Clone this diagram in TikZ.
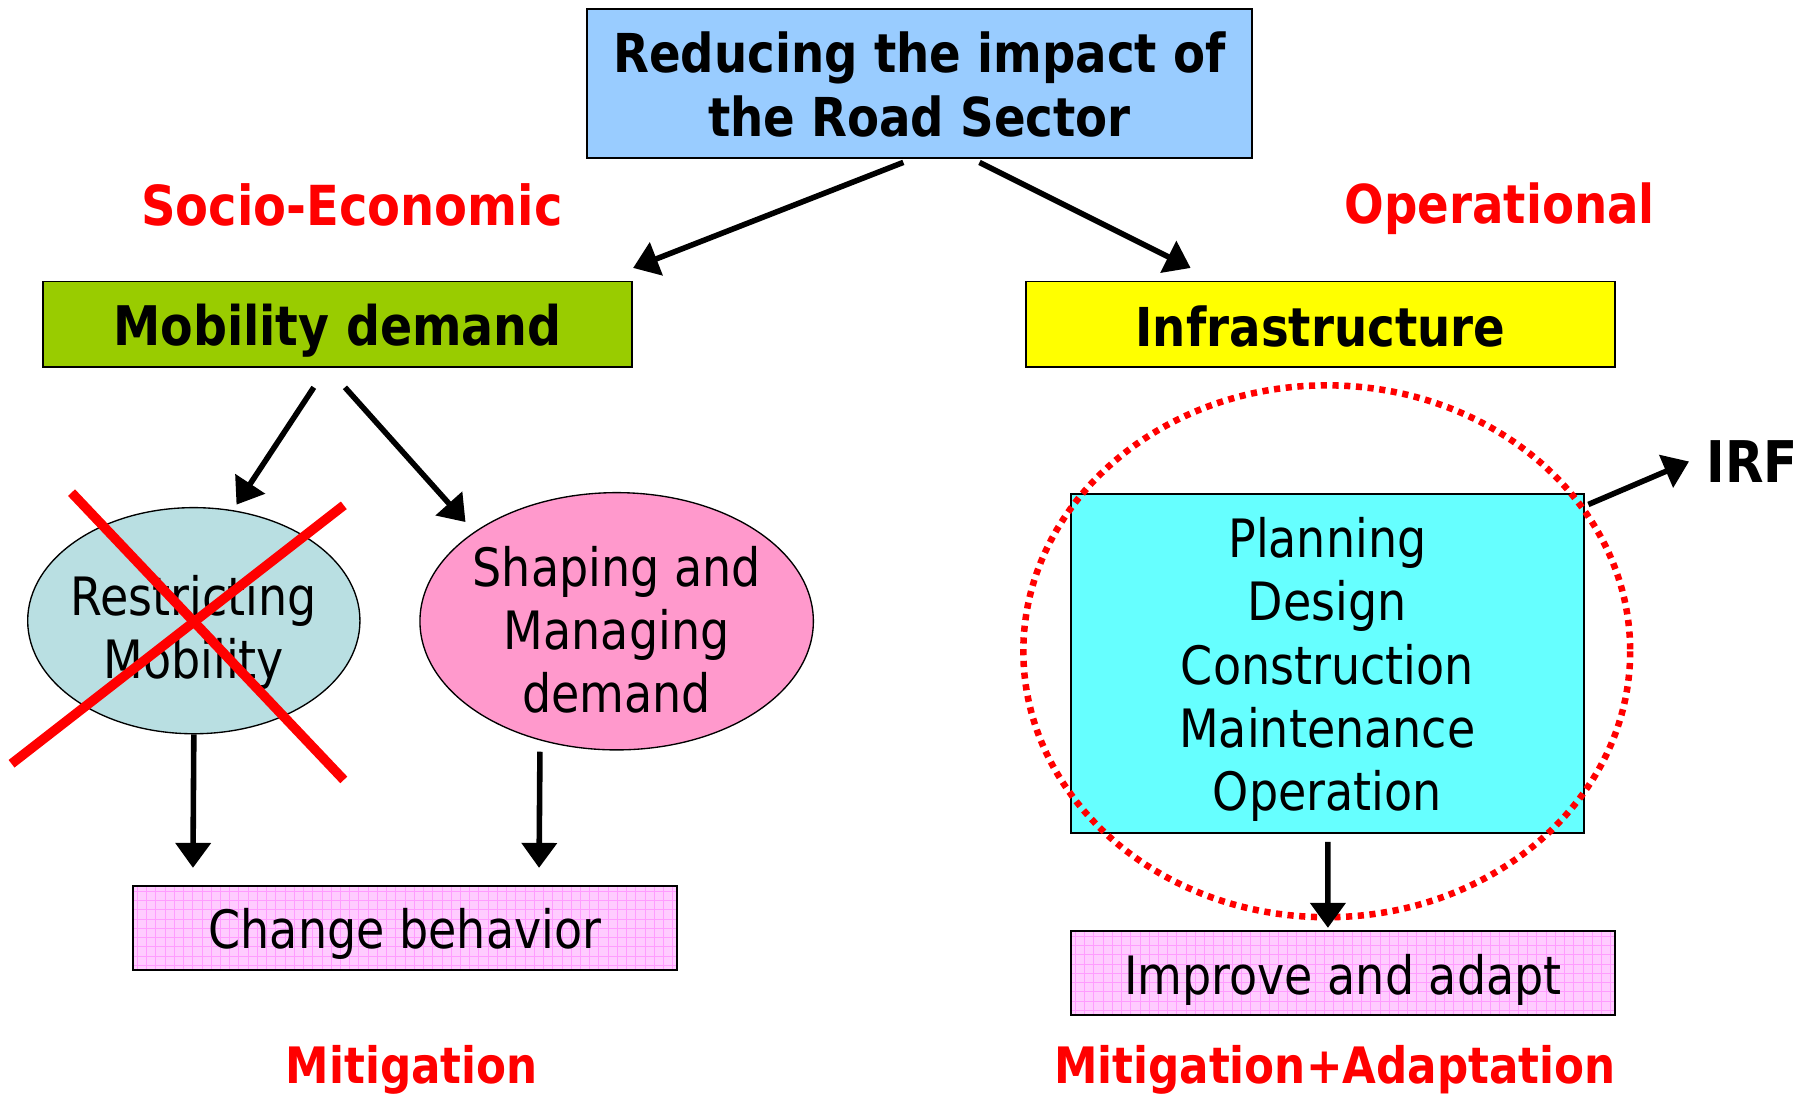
\documentclass[tikz,border=0pt]{standalone}
\usepackage{fontspec}
\setmainfont{DejaVu Sans}[FakeStretch=0.87]
\usetikzlibrary{arrows.meta,shapes.geometric,calc}
\definecolor{topblue}{HTML}{99CCFF}
\definecolor{mobgreen}{HTML}{99CC00}
\definecolor{infyellow}{HTML}{FFFF00}
\definecolor{restblue}{HTML}{B9DFE2}
\definecolor{shapepink}{HTML}{FF99CC}
\definecolor{boxpink}{HTML}{FFCCFF}
\definecolor{gridpink}{HTML}{FF9CFF}
\definecolor{cyanbox}{HTML}{66FFFF}
\definecolor{labred}{HTML}{FF0000}
\begin{document}
\begin{tikzpicture}[x=0.6bp,y=-0.6bp,
  regtext/.style={font=\fontsize{27.6}{33}\selectfont, align=center, inner sep=0pt},
  boldtext/.style={font=\bfseries\fontsize{28}{33}\selectfont, align=center, inner sep=0pt},
  boxnode/.style={draw=black, line width=0.9bp, inner sep=0pt, rectangle},
  ellnode/.style={draw=black, line width=0.7bp, inner sep=0pt, ellipse},
  gridbox/.style={boxnode, fill=boxpink, path picture={
      \draw[gridpink, line width=0.35bp] (path picture bounding box.south west) grid[step=4.8bp] (path picture bounding box.north east);}},
  redlabel/.style={boldtext, text=labred},
  arr/.style={line width=2.9bp, -{Triangle[length=13bp,width=18bp]}},
  crossline/.style={labred, line width=5bp},
  ringline/.style={labred, line width=3.4bp, dash pattern=on 3.2bp off 2.9bp}
]
\useasboundingbox (0,0) rectangle (1568,948.2);

% top
\node[boxnode, fill=topblue, minimum width=345.6bp, minimum height=77.4bp,
  label={[boldtext, yshift=-0.5bp]center:Reducing the impact of\\the Road Sector}] (top) at (797,72.5) {};

% labels
\node[redlabel, font=\bfseries\fontsize{28.8}{33}\selectfont] (socio) at (305,178) {Socio-Economic};
\node[redlabel] (oper) at (1300,181) {Operational};

% level 2
\node[boxnode, fill=mobgreen, minimum width=306.6bp, minimum height=44.4bp,
  label={[boldtext, font=\bfseries\fontsize{28.5}{33}\selectfont, yshift=-3.3bp]center:Mobility demand}] (mob) at (292.5,281) {};
\node[boxnode, fill=infyellow, minimum width=306.6bp, minimum height=44.4bp,
  label={[boldtext, yshift=-1.2bp]center:Infrastructure}] (infra) at (1144.5,281) {};

% ellipses
\node[ellnode, fill=restblue, minimum width=172.8bp, minimum height=117.6bp,
  label={[regtext, yshift=-6bp]center:Restricting\\Mobility}] (rest) at (168,538) {};
\node[ellnode, fill=shapepink, minimum width=204.6bp, minimum height=133.8bp,
  label={[regtext, yshift=-4.5bp]center:Shaping and\\Managing\\demand}] (shape) at (534.5,538.5) {};

% red cross
\coordinate (xa) at (62,427);
\coordinate (xb) at (298,676);
\coordinate (xc) at (298,438);
\coordinate (xd) at (10,662);
\draw[crossline] (xa) -- (xb);
\draw[crossline] (xc) -- (xd);

% change behavior
\node[gridbox, minimum width=283.2bp, minimum height=43.8bp,
  label={[regtext, yshift=-3bp]center:Change behavior}] (change) at (351,804.5) {};

% right side
\node[boxnode, fill=cyanbox, minimum width=267bp, minimum height=176.4bp,
  label={[regtext, yshift=-3.2bp]center:Planning\\Design\\Construction\\Maintenance\\Operation}] (cyan) at (1150.5,575) {};
\coordinate (ringc) at (1150,564.5);
\draw[ringline] (ringc) ellipse (263 and 230.5);
\node[gridbox, minimum width=283.2bp, minimum height=43.8bp,
  label={[regtext, yshift=-3.3bp]center:Improve and adapt}] (improve) at (1164,843.5) {};
\node[boldtext, font=\bfseries\fontsize{30}{33}\selectfont, anchor=west] (irf) at (1479,400) {IRF};

\node[redlabel, font=\bfseries\fontsize{26.2}{33}\selectfont] (mitig) at (357,927) {Mitigation};
\node[redlabel, font=\bfseries\fontsize{26.2}{33}\selectfont] (mitad) at (1157,927) {Mitigation+Adaptation};

% connectors
\draw[arr] ($(top.south)+(-14,3)$) -- ($(mob.north east)+(0,-11)$);
\draw[arr] ($(top.south)+(52,3)$) -- ($(infra.north)+(-112.5,-11)$);
\draw[arr] ($(mob.south)+(-20.5,17)$) -- ($(rest.north)+(37,-2)$);
\draw[arr] ($(mob.south)+(6.5,17)$) -- ($(shape.center)+(-131,-86)$);
\draw[arr] (rest.south) -- ($(change.north west)+(53,-15)$);
\draw[arr] ($(shape.south)+(-66.5,1)$) -- ($(change.north west)+(353,-15)$);
\draw[arr] ($(cyan.south)+(0.5,7)$) -- ($(improve.north)+(-13,-2)$);
\draw[arr] ($(cyan.north east)+(3,10)$) -- ($(irf.west)+(-15,0)$);
\end{tikzpicture}
\end{document}
